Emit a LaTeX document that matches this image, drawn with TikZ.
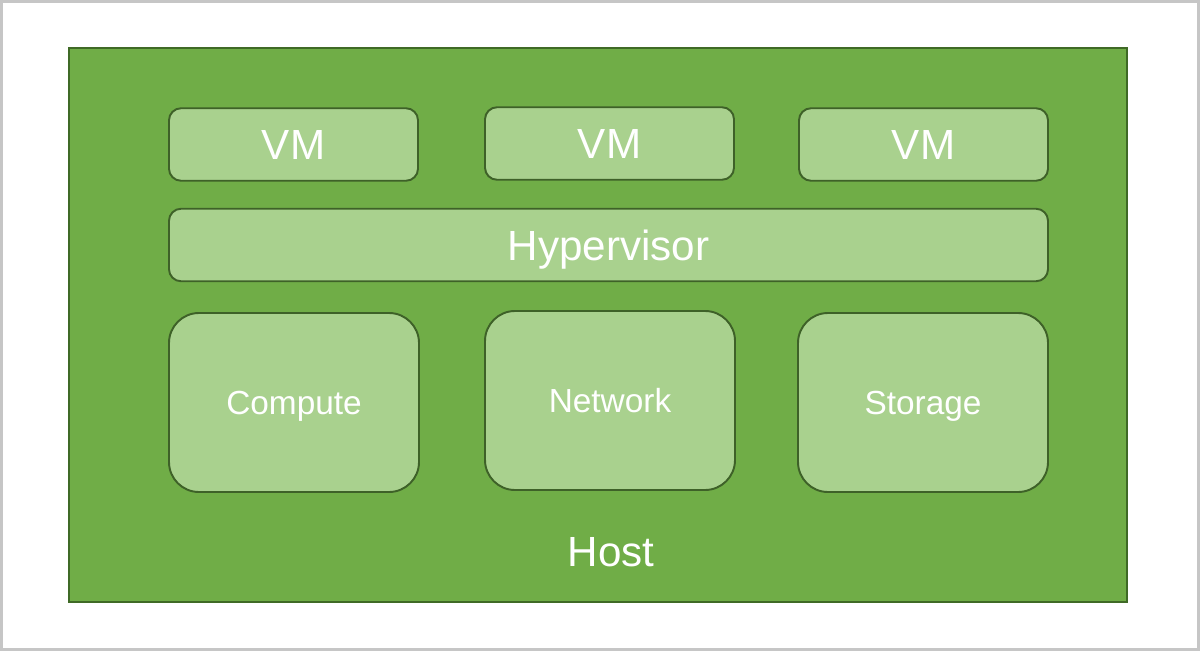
\documentclass[tikz,border=0pt]{standalone}
\usepackage{fontspec}
\setmainfont{Liberation Sans}
\usepackage{tikz}
\usetikzlibrary{positioning}
\definecolor{hostgreen} {HTML}{70AD47}
\definecolor{hostline}  {HTML}{3F6A26}
\definecolor{lightgreen}{HTML}{A9D18E}
\definecolor{boxline}   {HTML}{3E6128}

\begin{document}
\begin{tikzpicture}[
  host/.style={draw=hostline,fill=hostgreen,line width=1.2pt,
               minimum width=21.16cm,minimum height=11.08cm,
               inner sep=0pt,outer sep=0pt},
  layer/.style={draw=boxline,fill=lightgreen,line width=1.1pt,
                rounded corners=0.24cm,minimum height=1.45cm,
                inner sep=0pt,outer sep=0pt,text=white,text depth=0pt,
                font=\fontsize{24}{28}\selectfont},
  res/.style={draw=boxline,fill=lightgreen,line width=1.1pt,
              rounded corners=0.6cm,minimum width=5cm,minimum height=3.58cm,
              inner sep=0pt,outer sep=0pt,text=white,text depth=0pt,
              font=\fontsize{19}{23}\selectfont},
  lbl/.style={text=white,font=\fontsize{24}{28}\selectfont}
]
% page and frame
\useasboundingbox (0,0) rectangle (24,-13.02);
\draw[gray!45,fill=white,line width=0.06cm] (0.03,-0.03) rectangle (23.97,-12.99);

\node[host] (H) at (11.96,-6.5) {};

\node[layer,minimum width=4.98cm] (VM1) at (5.87,-2.89)  {VM};
\node[layer,minimum width=4.98cm] (VM2) at (12.19,-2.87) {VM};
\node[layer,minimum width=4.98cm] (VM3) at (18.47,-2.89) {VM};

\node[layer,minimum width=17.58cm] (HV) at (12.17,-4.9) {Hypervisor};

\node[res] (CP) at (5.88,-8.05)  {Compute};
\node[res] (NW) at (12.2,-8.01)  {Network};
\node[res] (ST) at (18.46,-8.05) {Storage};

\node[lbl] (HL) at (12.22,-11.04) {Host};
\end{tikzpicture}
\end{document}
